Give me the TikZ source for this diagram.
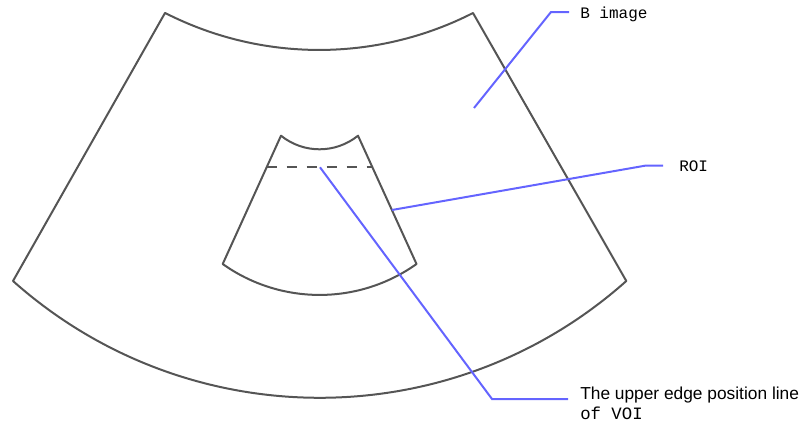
\documentclass[tikz,border=0pt]{standalone}
\usepackage{fontspec}
\setmainfont{Liberation Sans}
\newfontfamily\labelmono{Liberation Mono}
\usetikzlibrary{positioning}
\definecolor{edgegray}{RGB}{85,85,85}
\definecolor{leadblue}{RGB}{100,100,255}

\begin{document}
\begin{tikzpicture}[x=0.75pt, y=0.75pt]
\tikzset{
  scanline/.style={draw=edgegray, line width=1.5pt, line join=round},
  voiline/.style={draw=edgegray, line width=1.7pt, dash pattern=on 8pt off 7pt},
  leader/.style={draw=leadblue, line width=1.5pt},
  monolbl/.style={inner sep=0pt, anchor=west, font=\labelmono\fontsize{12}{14}\selectfont},
  sanslbl/.style={inner sep=0pt, anchor=west, align=left, font=\fontsize{13}{15}\selectfont}
}
\useasboundingbox (0,0) rectangle (806,430);
% B image sector
\coordinate (bigtl) at (165,417);
\coordinate (bigbl) at (13,149);
\coordinate (bigtr) at (473,417);
\draw[scanline] (bigtl) -- (bigbl) arc[start angle=228.3, end angle=311.7, radius=461]
  -- (bigtr) arc[start angle=297, end angle=243, radius=339] -- cycle;
% ROI sector
\coordinate (roitl) at (281,294.3);
\coordinate (roibl) at (222.7,166);
\coordinate (roitr) at (358,294.3);
\draw[scanline] (roitl) -- (roibl) arc[start angle=234.6, end angle=305.4, radius=167.3]
  -- (roitr) arc[start angle=308.9, end angle=231.1, radius=61.3] -- cycle;
\coordinate (voil) at (266.6,262.7);
\coordinate (voir) at (372.4,262.7);
\draw[voiline] (voil) -- (voir);
% labels
\node[monolbl] (bimg) at (580,416) {B image};
\node[monolbl] (roilbl) at (679,264) {ROI};
\node[sanslbl] (voilbl) at (580,27) {The upper edge position line\\{\labelmono of VOI}};
% leaders
\coordinate (bstart) at (474,322);
\coordinate (bkink) at (551,418);
\coordinate (rstart) at (391.9,220);
\coordinate (rkink) at (645,264.3);
\coordinate (vstart) at (320,262.7);
\coordinate (vkink) at (492,31);
\draw[leader, shorten >=8.25pt] (bstart) -- (bkink) -- (bimg.west |- bkink);
\draw[leader, shorten >=12pt] (rstart) -- (rkink) -- (roilbl.west |- rkink);
\draw[leader, shorten >=9pt] (vstart) -- (vkink) -- (voilbl.west |- vkink);
\end{tikzpicture}
\end{document}
